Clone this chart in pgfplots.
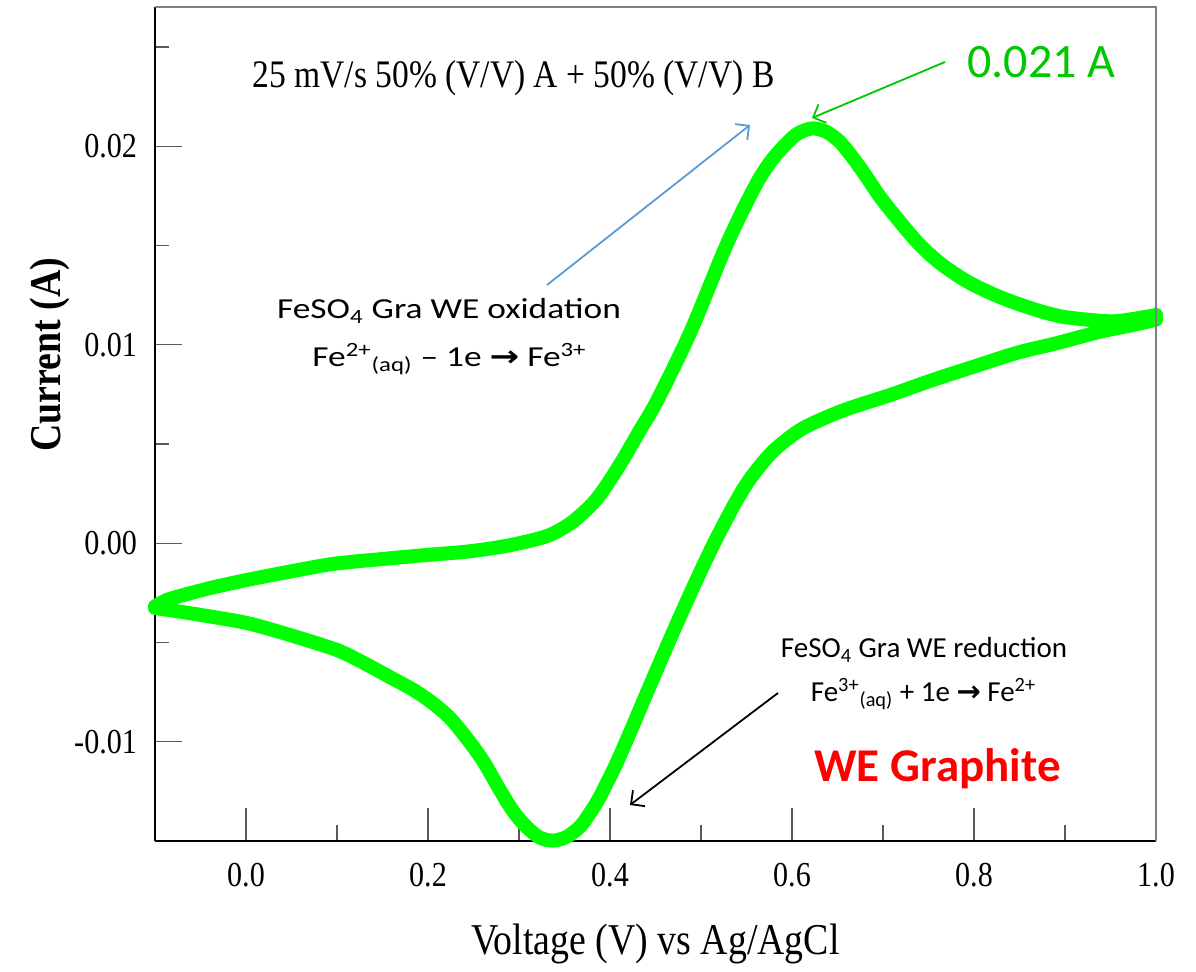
\documentclass[border=0pt]{standalone}
\usepackage{fontspec}
\setmainfont{Liberation Serif}[FakeStretch=0.86]
\newfontfamily\carlito{Carlito}
\newfontfamily\carlitowide{Carlito}[FakeStretch=1.22]
\newfontfamily\djv{DejaVu Sans}
\newfontfamily\djvwide{DejaVu Sans}[FakeStretch=1.22]
\usepackage{pgfplots}
\pgfplotsset{compat=1.18}
\usetikzlibrary{arrows.meta}
\definecolor{curvegreen}{RGB}{0,255,0}
\definecolor{txtgreen}{RGB}{0,200,0}
\definecolor{arrowblue}{RGB}{91,155,213}
\definecolor{tickgray}{RGB}{90,90,90}
\begin{document}
\begin{tikzpicture}
\path (0,0) rectangle (598pt,484pt);
\begin{axis}[
  at={(77.5pt,63.5pt)}, anchor=south west,
  scale only axis, width=500.5pt, height=416.85pt,
  xmin=-0.1, xmax=1.0, ymin=-0.015, ymax=0.027,
  clip=false,
  scaled y ticks=false, scaled x ticks=false,
  axis lines*=left,
  axis line style={black, line width=1pt},
  xtick={0,0.2,0.4,0.6,0.8,1.0},
  xticklabels={0.0,0.2,0.4,0.6,0.8,1.0},
  ytick={-0.01,0,0.01,0.02},
  yticklabels={-0.01,0.00,0.01,0.02},
  minor xtick={0.1,0.3,0.5,0.7,0.9},
  minor ytick={-0.005,0.005,0.015,0.025},
  tick align=inside,
  major tick length=16.5pt, minor tick length=8pt,
  every tick/.style={tickgray, line width=0.6pt},
  ytick style={/pgfplots/major tick length=13.5pt, /pgfplots/minor tick length=7pt},
  ticklabel style={font=\fontsize{17.5}{20}\selectfont},
  xticklabel style={yshift=-7.5pt},
  yticklabel style={xshift=-5.5pt},
  xlabel={Voltage (V) vs Ag/AgCl},
  xlabel style={at={(axis description cs:0.5,-0.1367)}, anchor=base, font=\fontsize{22}{24}\selectfont},
  ylabel={\bfseries Current (A)},
  ylabel style={at={(axis description cs:-0.0949,0.5834)}, anchor=base, font=\fontsize{22}{24}\selectfont},
]
\addplot[curvegreen, line width=7pt, smooth, line cap=round, line join=round] coordinates {
(-0.100,-0.00318) (-0.087,-0.00286) (-0.069,-0.00261) (-0.036,-0.00222)
(0.001,-0.00185) (0.048,-0.00143) (0.096,-0.00104) (0.151,-0.00079)
(0.199,-0.00059) (0.243,-0.00042) (0.279,-0.00019) (0.308,0.00008)
(0.334,0.00042) (0.358,0.00105) (0.381,0.00200) (0.396,0.00290)
(0.414,0.00420) (0.433,0.00570) (0.452,0.00720) (0.488,0.01060)
(0.524,0.01460) (0.543,0.01650) (0.562,0.01820) (0.576,0.01920)
(0.590,0.01995) (0.605,0.02060) (0.622,0.02090) (0.638,0.02072)
(0.653,0.02020) (0.668,0.01935) (0.682,0.01845) (0.700,0.01725)
(0.737,0.01520) (0.763,0.01410) (0.792,0.01320) (0.821,0.01255)
(0.847,0.01208) (0.876,0.01165) (0.902,0.01138) (0.949,0.01118)
(0.975,0.01130) (1.000,0.01150)
};
\addplot[curvegreen, line width=7pt, smooth, line cap=round, line join=round] coordinates {
(1.000,0.01126) (0.975,0.01100) (0.938,0.01065) (0.891,0.01008)
(0.847,0.00959) (0.800,0.00890) (0.755,0.00823) (0.708,0.00747)
(0.664,0.00682) (0.638,0.00635) (0.609,0.00571) (0.579,0.00463)
(0.554,0.00325) (0.536,0.00190) (0.513,-0.00012) (0.492,-0.00216)
(0.469,-0.00451) (0.444,-0.00716) (0.425,-0.00921) (0.407,-0.01110)
(0.389,-0.01276) (0.378,-0.01359) (0.367,-0.01428) (0.352,-0.01480)
(0.337,-0.01498) (0.3225,-0.01482) (0.308,-0.01428) (0.294,-0.01353)
(0.279,-0.01243) (0.261,-0.01100) (0.243,-0.00985) (0.224,-0.00880)
(0.205,-0.00805) (0.184,-0.00739) (0.158,-0.00674) (0.129,-0.00602)
(0.100,-0.00538) (0.048,-0.00462) (0.001,-0.00402) (-0.050,-0.00361)
(-0.100,-0.00326)
};
\draw[gray, line width=1pt] (rel axis cs:0,1) -- (rel axis cs:1,1) -- (rel axis cs:1,0);
\end{axis}
% annotations
\node[anchor=base, font=\fontsize{19.5}{22}\selectfont] at (256.75pt,440pt) {25 mV/s 50\% (V/V) A + 50\% (V/V) B};
\node[anchor=base, text=txtgreen, font=\carlito\fontsize{24}{26}\selectfont] at (520.75pt,445pt) {0.021 A};
\draw[txtgreen, line width=0.9pt, -{Straight Barb[length=5pt,width=10pt]}] (472.5pt,453pt) -- (406pt,425pt);
\draw[arrowblue, line width=0.9pt, -{Straight Barb[length=5pt,width=10pt]}] (273.5pt,341.5pt) -- (375pt,421.5pt);
\draw[black, line width=0.9pt, -{Straight Barb[length=5pt,width=10pt]}] (389pt,137.5pt) -- (315pt,81.5pt);
\node[anchor=base, font=\carlitowide\fontsize{14.5}{16}\selectfont] at (224.5pt,324.5pt) {FeSO\textsubscript{4} Gra WE oxidation};
\node[anchor=base, font=\carlitowide\fontsize{14.5}{16}\selectfont] at (224.75pt,300.5pt) {Fe\textsuperscript{2+}\textsubscript{(aq)} – 1e {\djvwide\bfseries →} Fe\textsuperscript{3+}};
\node[anchor=base, font=\carlito\fontsize{14.5}{16}\selectfont] at (462pt,155pt) {FeSO\textsubscript{4} Gra WE reduction};
\node[anchor=base, font=\carlito\fontsize{14.5}{16}\selectfont] at (461.75pt,133pt) {Fe\textsuperscript{3+}\textsubscript{(aq)} + 1e {\djv\bfseries →} Fe\textsuperscript{2+}};
\node[anchor=base, text=red, font=\carlito\bfseries\fontsize{23.5}{26}\selectfont] at (468.75pt,93pt) {WE Graphite};
\end{tikzpicture}
\end{document}
